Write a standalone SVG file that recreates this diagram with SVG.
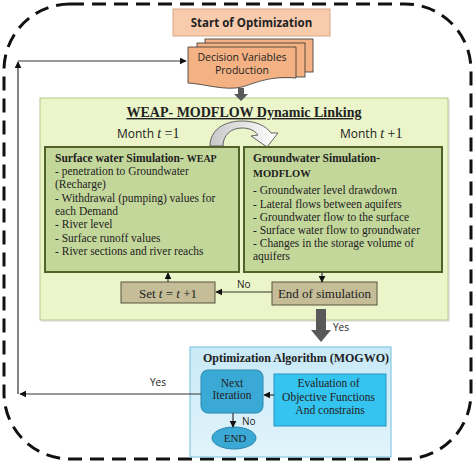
<svg xmlns="http://www.w3.org/2000/svg" width="474" height="465" viewBox="0 0 474 465">
<defs>
<style>
.sans{font-family:"Open Sans","Liberation Sans",Arial,sans-serif;fill:#222}
.serif{font-family:"Liberation Serif","Times New Roman",serif;fill:#222}
.conn{stroke:#333;stroke-width:1.2;fill:none}
.sim{fill:#c4d79b;stroke:#4f6228;stroke-width:2}
.tan{fill:#c4bd97;stroke:#59553f;stroke-width:1}
.doc{fill:#f4b183;stroke:#333;stroke-width:0.8}
</style>
<marker id="ah" viewBox="0 0 10 10" refX="9" refY="5" markerWidth="7" markerHeight="7" orient="auto-start-reverse" markerUnits="userSpaceOnUse">
<path d="M0,0 L10,5 L0,10 z" fill="#111"/>
</marker>
<linearGradient id="blueg" x1="0" y1="0" x2="0" y2="1">
<stop offset="0" stop-color="#c8e9f7"/><stop offset="1" stop-color="#e2f4fb"/>
</linearGradient>
<linearGradient id="curvg" x1="0" y1="0" x2="1" y2="0">
<stop offset="0" stop-color="#c8c8c8"/><stop offset="1" stop-color="#ffffff"/>
</linearGradient>
</defs>

<!-- dashed outer boundary -->
<rect x="4" y="4" width="467" height="455" rx="66" ry="66" fill="none" stroke="#111" stroke-width="3" stroke-dasharray="14 8"/>

<g id="start">
<rect x="173" y="9" width="157" height="27" fill="#f8cbad" stroke="#d8a888" stroke-width="1"/>
<text x="251.5" y="26.5" text-anchor="middle" class="sans" font-size="11.5" font-weight="bold">Start of Optimization</text>
</g>

<g id="decision">
<rect class="doc" x="205" y="39" width="108" height="33"/>
<rect class="doc" x="197" y="43" width="108" height="34"/>
<path class="doc" d="M188,47 H296 V78 C270,76 258,82 242,87 C225,91 205,84 188,83 Z"/>
<text x="242" y="61" text-anchor="middle" class="sans" font-size="10.5">Decision Variables</text>
<text x="242" y="74" text-anchor="middle" class="sans" font-size="10.5">Production</text>
</g>

<g id="linking">
<rect x="41" y="100" width="409" height="222" fill="#d9d9d9" opacity="0.6"/>
<rect x="40" y="98" width="408" height="222" fill="#ebf5c9" stroke="#b2cc88" stroke-width="1"/>
<text x="244" y="117" text-anchor="middle" class="serif" font-size="14" font-weight="bold" text-decoration="underline">WEAP- MODFLOW Dynamic Linking</text>
<text x="117" y="138" class="sans" font-size="12">Month <tspan class="serif" font-style="italic" font-size="14">t</tspan><tspan class="serif" font-size="14"> =1</tspan></text>
<text x="340" y="138" class="sans" font-size="12">Month <tspan class="serif" font-style="italic" font-size="14">t</tspan><tspan class="serif" font-size="14"> +1</tspan></text>
<path d="M210,146 C210,130 224,121 242,121 C256,121 266,126 271,133 L278,133 L267,147 L251,136 L258,135 C254,130 249,128 242,128 C231,128 223,135 223,146 Z" fill="url(#curvg)" stroke="#555" stroke-width="0.9"/>
</g>

<g id="weap">
<rect class="sim" x="45" y="147" width="194" height="125"/>
<text class="serif" font-size="11.5">
<tspan x="55" y="162" font-weight="bold">Surface water Simulation- <tspan font-size="10">WEAP</tspan></tspan>
<tspan x="55" y="175">- penetration to Groundwater</tspan>
<tspan x="55" y="188">(Recharge)</tspan>
<tspan x="55" y="202">- Withdrawal (pumping) values for</tspan>
<tspan x="55" y="215">each Demand</tspan>
<tspan x="55" y="228">- River level</tspan>
<tspan x="55" y="242">- Surface runoff values</tspan>
<tspan x="55" y="255">- River sections and river reachs</tspan>
</text>
</g>

<g id="modflow">
<rect class="sim" x="244" y="147" width="198" height="125"/>
<text class="serif" font-size="11.5">
<tspan x="253" y="162" font-weight="bold">Groundwater Simulation-</tspan>
<tspan x="253" y="177" font-weight="bold" font-size="10.5">MODFLOW</tspan>
<tspan x="253" y="194">- Groundwater level drawdown</tspan>
<tspan x="253" y="208">- Lateral flows between aquifers</tspan>
<tspan x="253" y="221">- Groundwater flow to the surface</tspan>
<tspan x="253" y="234">- Surface water flow to groundwater</tspan>
<tspan x="253" y="247">- Changes in the storage volume of</tspan>
<tspan x="253" y="260">aquifers</tspan>
</text>
</g>

<g id="set">
<rect class="tan" x="121" y="282" width="94" height="21"/>
<text x="168" y="297.5" text-anchor="middle" class="serif" font-size="13">Set <tspan font-style="italic">t</tspan> = <tspan font-style="italic">t</tspan> +1</text>
</g>

<g id="endsim">
<rect class="tan" x="272" y="282" width="105" height="23"/>
<text x="324.5" y="298" text-anchor="middle" class="serif" font-size="13">End of simulation</text>
</g>

<g id="optim">
<rect x="190" y="347" width="201" height="110" fill="url(#blueg)" stroke="#86c8e2" stroke-width="1.2"/>
<text x="296" y="362" text-anchor="middle" class="serif" font-size="12" font-weight="bold">Optimization Algorithm (MOGWO)</text>
</g>

<g id="next">
<rect x="201" y="370" width="62" height="43" rx="7" fill="#3aa9d6" stroke="#2a86ad" stroke-width="1"/>
<text x="232" y="387" text-anchor="middle" class="serif" font-size="11.5" fill="#0e2a40">Next</text>
<text x="232" y="399" text-anchor="middle" class="serif" font-size="11.5" fill="#0e2a40">Iteration</text>
</g>

<g id="evaluation">
<rect x="274" y="374" width="112" height="52" fill="#35c3f0" stroke="#2295c2" stroke-width="1"/>
<text text-anchor="middle" class="serif" font-size="11.5">
<tspan x="330" y="387">Evaluation of</tspan>
<tspan x="330" y="401">Objective Functions</tspan>
<tspan x="330" y="414">And constrains</tspan>
</text>
</g>

<g id="end">
<ellipse cx="234" cy="438" rx="22" ry="11" fill="#3aa9d6" stroke="#2a86ad" stroke-width="1"/>
<text x="235" y="442" text-anchor="middle" class="serif" font-size="11">END</text>
</g>

<g id="connectors">
<path d="M238,88 H244 V94 H248 L241,101 L234,94 H238 Z" fill="#595959"/>
<path d="M316,309 H326 V330 H331 L321,342 L311,330 H316 Z" fill="#595959"/>
<text x="333" y="331" class="sans" font-size="10">Yes</text>
<line class="conn" x1="168" y1="282" x2="168" y2="273" marker-end="url(#ah)"/>
<line class="conn" x1="322" y1="272" x2="322" y2="282" marker-end="url(#ah)"/>
<line class="conn" x1="272" y1="292" x2="216" y2="292" marker-end="url(#ah)"/>
<text x="237" y="288" class="sans" font-size="10">No</text>
<line class="conn" x1="274" y1="395" x2="264" y2="395" marker-end="url(#ah)"/>
<line class="conn" x1="233" y1="413" x2="233" y2="427" marker-end="url(#ah)"/>
<text x="242" y="425" class="sans" font-size="10">No</text>
<line class="conn" x1="201" y1="394" x2="20" y2="394" marker-end="url(#ah)"/>
<text x="150" y="386" class="sans" font-size="10">Yes</text>
<line class="conn" x1="18" y1="394" x2="18" y2="62" marker-end="url(#ah)"/>
<line class="conn" x1="18" y1="61" x2="186" y2="61" marker-end="url(#ah)"/>
</g>
</svg>
